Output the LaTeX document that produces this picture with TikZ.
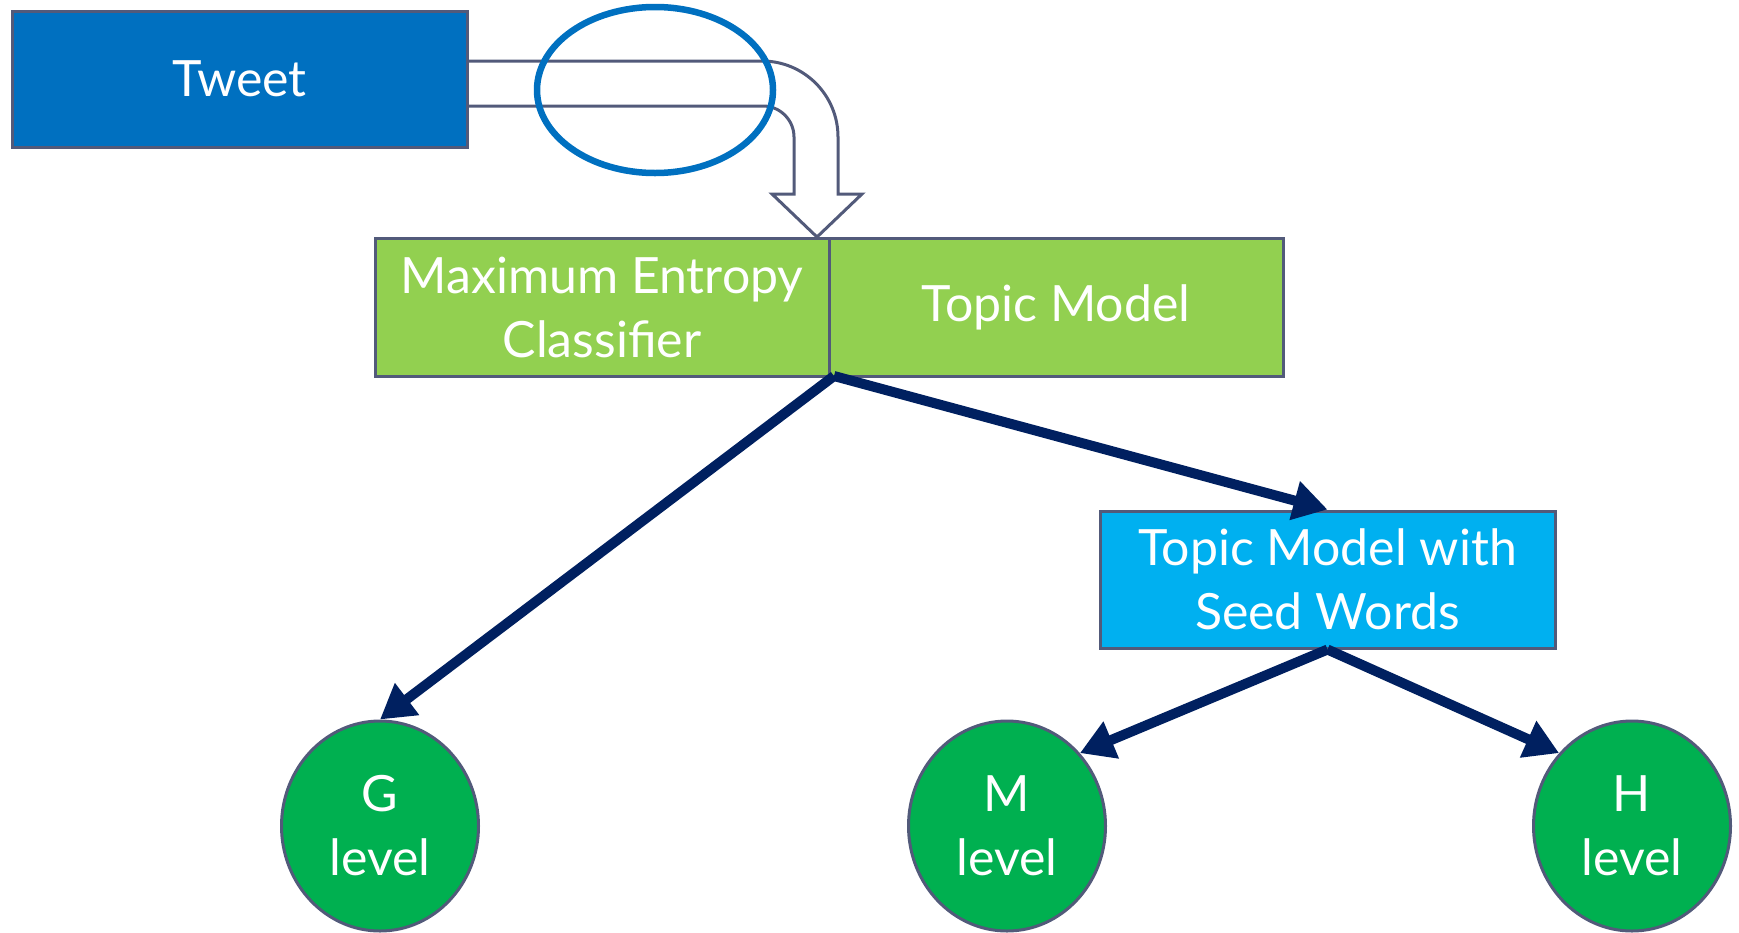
\documentclass[tikz,border=0pt]{standalone}
\usepackage{fontspec}
\setmainfont{Lato}
\usetikzlibrary{shapes.geometric,arrows.meta}
\definecolor{tweetblue}{HTML}{0070C0}
\definecolor{lgreen}{HTML}{92D050}
\definecolor{skyblue}{HTML}{00B0F0}
\definecolor{dgreen}{HTML}{00B050}
\definecolor{navy}{HTML}{002060}
\definecolor{edge}{RGB}{82,90,122}
\tikzset{
  box/.style={draw=edge, line width=3pt, text=white, align=center, inner sep=0pt,
    font=\fontsize{50}{64}\selectfont},
  lvl/.style={ellipse, draw=edge, line width=3pt, fill=dgreen, text=white, align=center,
    inner sep=0pt, minimum width=197pt, minimum height=210pt,
    font=\fontsize{50}{64}\selectfont},
  arr/.style={draw=navy, line width=10pt, -{Triangle[length=34pt,width=38pt]}},
  uarrow/.style={draw=edge, line width=3pt, line join=miter},
  hilite/.style={ellipse, draw=tweetblue, line width=6.5pt, inner sep=0pt}
}
\begin{document}
\begin{tikzpicture}[x=1pt,y=-1pt]
\useasboundingbox (0,0) rectangle (1739,932);
% boxes
\node[box, fill=tweetblue, minimum width=455pt, minimum height=136pt] (tweet) at (239.5,79) {Tweet};
\node[box, fill=lgreen, minimum width=454pt, minimum height=138pt] (me) at (602,307) {Maximum Entropy\\Classifier};
\node[box, fill=lgreen, minimum width=454pt, minimum height=138pt] (tm) at (1056,307) {Topic Model};
\node[box, fill=skyblue, minimum width=455pt, minimum height=137pt] (seed) at (1327.5,579.5) {Topic Model with\\Seed Words};
% level circles
\node[lvl] (g) at (380,826) {G\\level};
\node[lvl] (m) at (1007,826) {M\\level};
\node[lvl] (h) at (1632,826) {H\\level};
% U-turn block arrow
\coordinate (o1) at (tweet.east |- 0,61);
\coordinate (o2) at (tweet.east |- 0,106);
\draw[uarrow] (o1) -- (762,61) .. controls (804,61) and (838,95) .. (838,137)
  -- (838,194) -- (862,194) -- (817,237) -- (772,194) -- (794,194) -- (794,137)
  .. controls (794,120) and (780,106) .. (763,106) -- (o2);
% highlight ellipse
\node[hilite, minimum width=236pt, minimum height=166pt] (hl) at (655,90) {};
% connectors
\coordinate (src) at (834,376);
\draw[arr] (src) -- (g.north);
\draw[arr] (src) -- (seed.north);
\draw[arr] (seed.south) -- (m.45);
\draw[arr] (seed.south) -- (h.135);
\end{tikzpicture}
\end{document}
